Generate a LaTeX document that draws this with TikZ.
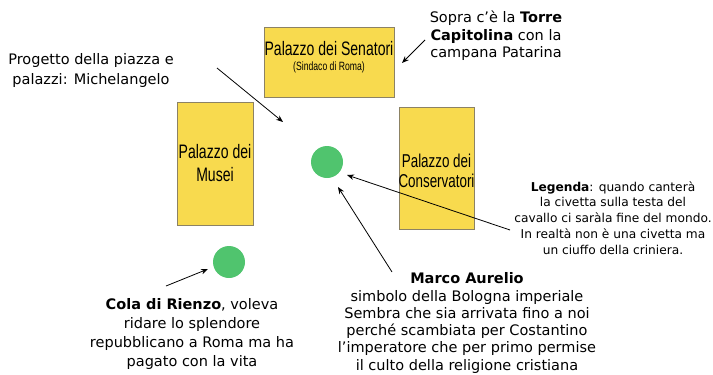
\documentclass[tikz,border=0pt]{standalone}
\usepackage{fontspec}
\setmainfont{DejaVu Sans}
\newfontfamily\narrowfont[FakeStretch=0.72]{Liberation Sans}
\usetikzlibrary{arrows.meta}
\definecolor{palyellow}{RGB}{248,218,78}
\definecolor{palborder}{RGB}{140,130,100}
\definecolor{statgreen}{RGB}{80,196,110}
\tikzset{
  palazzo/.style={draw=palborder, line width=0.8pt, fill=palyellow, align=center,
    inner sep=0pt, font=\narrowfont\fontsize{19.5}{24}\selectfont},
  boxtext/.style={align=center, inner sep=0pt, font=\narrowfont\fontsize{19.5}{24}\selectfont},
  statua/.style={circle, fill=statgreen, minimum size=32pt, inner sep=0pt},
  note/.style={align=center, inner sep=0pt, font=\fontsize{14.5}{19}\selectfont},
  smallnote/.style={align=center, inner sep=0pt, font=\fontsize{12.2}{15.8}\selectfont},
  arr/.style={-{Stealth[length=7pt,width=5.5pt]}, line width=0.8pt, black}
}
\begin{document}
\begin{tikzpicture}[x=1pt,y=-1pt]
\useasboundingbox (0,0) rectangle (713,375);

% buildings
\node[palazzo, minimum width=130pt, minimum height=70pt] (senatori) at (329,62) {};
\node[boxtext] (sen1) at (329,49) {Palazzo dei Senatori};
\node[boxtext, font=\narrowfont\fontsize{12}{14}\selectfont] (sen2) at (329,67) {(Sindaco di Roma)};
\node[palazzo, minimum width=76pt, minimum height=123pt] (musei) at (215,163.5) {};
\node[boxtext, font=\narrowfont\fontsize{19.5}{23}\selectfont] (museitxt) at (215,163.5) {Palazzo dei\\Musei};
\node[palazzo, minimum width=75pt, minimum height=122pt] (conserv) at (436.5,168) {};
\node[boxtext, font=\narrowfont\fontsize{18.6}{20}\selectfont] (conservtxt) at (436.5,170.5) {Palazzo dei\\Conservatori};

% statues
\node[statua] (marco) at (327,162) {};
\node[statua] (cola) at (229,262) {};

% texts
\node[note, font=\fontsize{14.5}{20}\selectfont] (mich) at (91,70) {Progetto della piazza e\\palazzi: Michelangelo};
\node[note, font=\fontsize{14.5}{17.5}\selectfont] (torre) at (496,36) {Sopra c’è la \textbf{Torre}\\\textbf{Capitolina} con la\\campana Patarina};
\node[smallnote] (legenda) at (613,218) {\textbf{Legenda}: quando canterà\\la civetta sulla testa del\\cavallo ci saràla fine del mondo.\\In realtà non è una civetta ma\\un ciuffo della criniera.};
\node[note] (colatxt) at (192,334) {\textbf{Cola di Rienzo}, voleva\\ridare lo splendore\\repubblicano a Roma ma ha\\pagato con la vita};
\node[note, font=\fontsize{14.5}{17.3}\selectfont] (marcotxt) at (467,323) {\textbf{Marco Aurelio}\\simbolo della Bologna imperiale\\Sembra che sia arrivata fino a noi\\perché scambiata per Costantino\\l'imperatore che per primo permise\\il culto della religione cristiana};

% arrow endpoints
\coordinate (m1) at (217,68);
\coordinate (m2) at (283,122);
\coordinate (t1) at (425,40);
\coordinate (t2) at (402,63);
\coordinate (l1) at (510,230);
\coordinate (l2) at (347,175);
\coordinate (a1) at (392,272);
\coordinate (a2) at (338,187);
\coordinate (c1) at (166,286);
\coordinate (c2) at (208,269);

\draw[arr] (m1) -- (m2);
\draw[arr] (t1) -- (t2);
\draw[arr] (l1) -- (l2);
\draw[arr] (a1) -- (a2);
\draw[arr] (c1) -- (c2);
\end{tikzpicture}
\end{document}
